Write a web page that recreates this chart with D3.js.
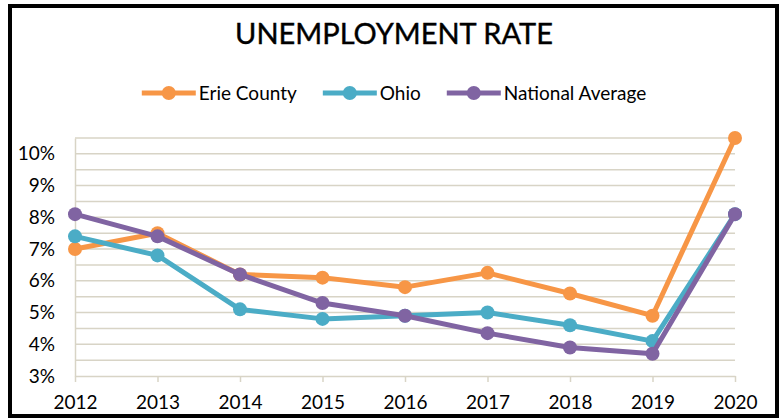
<!DOCTYPE html>
<html>
<head>
<meta charset="utf-8">
<script src="https://cdn.jsdelivr.net/npm/d3@7"></script>
<style>
    body { margin: 0; background: #fff; }
    svg text { font-family: Lato, "Open Sans", sans-serif; fill: #000; }
</style>
</head>
<body>
<div class="chart"></div>
<script>
// data
let years = ["2012", "2013", "2014", "2015", "2016", "2017", "2018", "2019", "2020"];
let erieCounty = [7.0, 7.5, 6.2, 6.1, 5.8, 6.25, 5.6, 4.9, 10.5];
let ohio = [7.4, 6.8, 5.1, 4.8, 4.9, 5.0, 4.6, 4.1, 8.1];
let nationalAverage = [8.1, 7.4, 6.2, 5.3, 4.9, 4.35, 3.9, 3.7, 8.1];
let seriesNames = ["Erie County", "Ohio", "National Average"];
let seriesColors = ["#f79646", "#4bacc6", "#8064a2"];
let yTicks = [3, 4, 5, 6, 7, 8, 9, 10];
let gridTicks = [3.5, 4, 4.5, 5, 5.5, 6, 6.5, 7, 7.5, 8, 8.5, 9, 9.5, 10, 10.5];

let width = 784, height = 419;
let svg = d3.select(".chart").append("svg")
    .attr("width", width).attr("height", height);

// frame
svg.append("rect")
    .attr("x", 10).attr("y", 6)
    .attr("width", 767).attr("height", 410)
    .attr("fill", "#fff").attr("stroke", "#000").attr("stroke-width", 4);

let margin = {top: 138, right: 49, bottom: 43, left: 75},
    plotW = width - margin.left - margin.right,
    plotH = height - margin.top - margin.bottom,
    g = svg.append("g").attr("transform", "translate(" + margin.left + "," + margin.top + ")");

let x = d3.scalePoint().domain(years).range([0, plotW]);
let y = d3.scaleLinear().domain([3, 10.5]).range([plotH, 0]);

let gridColor = "#d8d4c6";

// gridlines
g.append("g").selectAll("line")
    .data(gridTicks)
    .enter().append("line")
    .attr("x1", 0).attr("x2", plotW)
    .attr("y1", function (d) { return y(d); })
    .attr("y2", function (d) { return y(d); })
    .attr("stroke", gridColor).attr("stroke-width", 1.5);

// y axis
let yAxis = g.append("g")
    .call(d3.axisLeft(y).tickValues(yTicks).tickSize(0).tickPadding(20)
        .tickFormat(function (d) { return d + "%"; }));
yAxis.select(".domain").attr("stroke", gridColor).attr("stroke-width", 1.5);
yAxis.selectAll("text").attr("font-size", "19px").attr("font-family", "Lato");

// x axis
let xAxis = g.append("g")
    .attr("transform", "translate(0," + plotH + ")")
    .call(d3.axisBottom(x).tickSize(6).tickSizeOuter(0).tickPadding(14));
xAxis.select(".domain").attr("stroke", gridColor).attr("stroke-width", 1.5);
xAxis.selectAll(".tick line").attr("stroke", gridColor).attr("stroke-width", 1.5);
xAxis.selectAll("text").attr("font-size", "19px").attr("font-family", "Lato");

// lines
let allSeries = [erieCounty, ohio, nationalAverage];
let line = d3.line()
    .x(function (d, i) { return x(years[i]); })
    .y(function (d) { return y(d); });

for (let s = 0; s < allSeries.length; s++) {
    g.append("path")
        .datum(allSeries[s])
        .attr("fill", "none")
        .attr("stroke", seriesColors[s])
        .attr("stroke-width", 5)
        .attr("stroke-linejoin", "round")
        .attr("d", line);
    g.append("g").selectAll("circle")
        .data(allSeries[s])
        .enter().append("circle")
        .attr("cx", function (d, i) { return x(years[i]); })
        .attr("cy", function (d) { return y(d); })
        .attr("r", 7)
        .attr("fill", seriesColors[s]);
}

// title
svg.append("text")
    .attr("x", 394).attr("y", 44)
    .attr("text-anchor", "middle")
    .attr("font-size", "29px")
    .attr("stroke", "#000").attr("stroke-width", 0.4)
    .text("UNEMPLOYMENT RATE");

// legend, laid out from measured text widths
let legend = svg.append("g").attr("transform", "translate(0,93)");
let items = [], cursor = 0, gap = 26;
for (let i = 0; i < seriesNames.length; i++) {
    let item = legend.append("g");
    item.append("line")
        .attr("x1", 0).attr("x2", 54).attr("y1", 0).attr("y2", 0)
        .attr("stroke", seriesColors[i]).attr("stroke-width", 5);
    item.append("circle").attr("cx", 27).attr("cy", 0).attr("r", 7).attr("fill", seriesColors[i]);
    let t = item.append("text")
        .attr("x", 57).attr("y", 7)
        .attr("font-size", "19px")
        .text(seriesNames[i]);
    let w = 57 + t.node().getComputedTextLength();
    items.push({node: item, x: cursor});
    cursor += w + gap;
}
let totalW = cursor - gap, startX = 394 - totalW / 2;
items.forEach(function (it) {
    it.node.attr("transform", "translate(" + (startX + it.x) + ",0)");
});
</script>
</body>
</html>
